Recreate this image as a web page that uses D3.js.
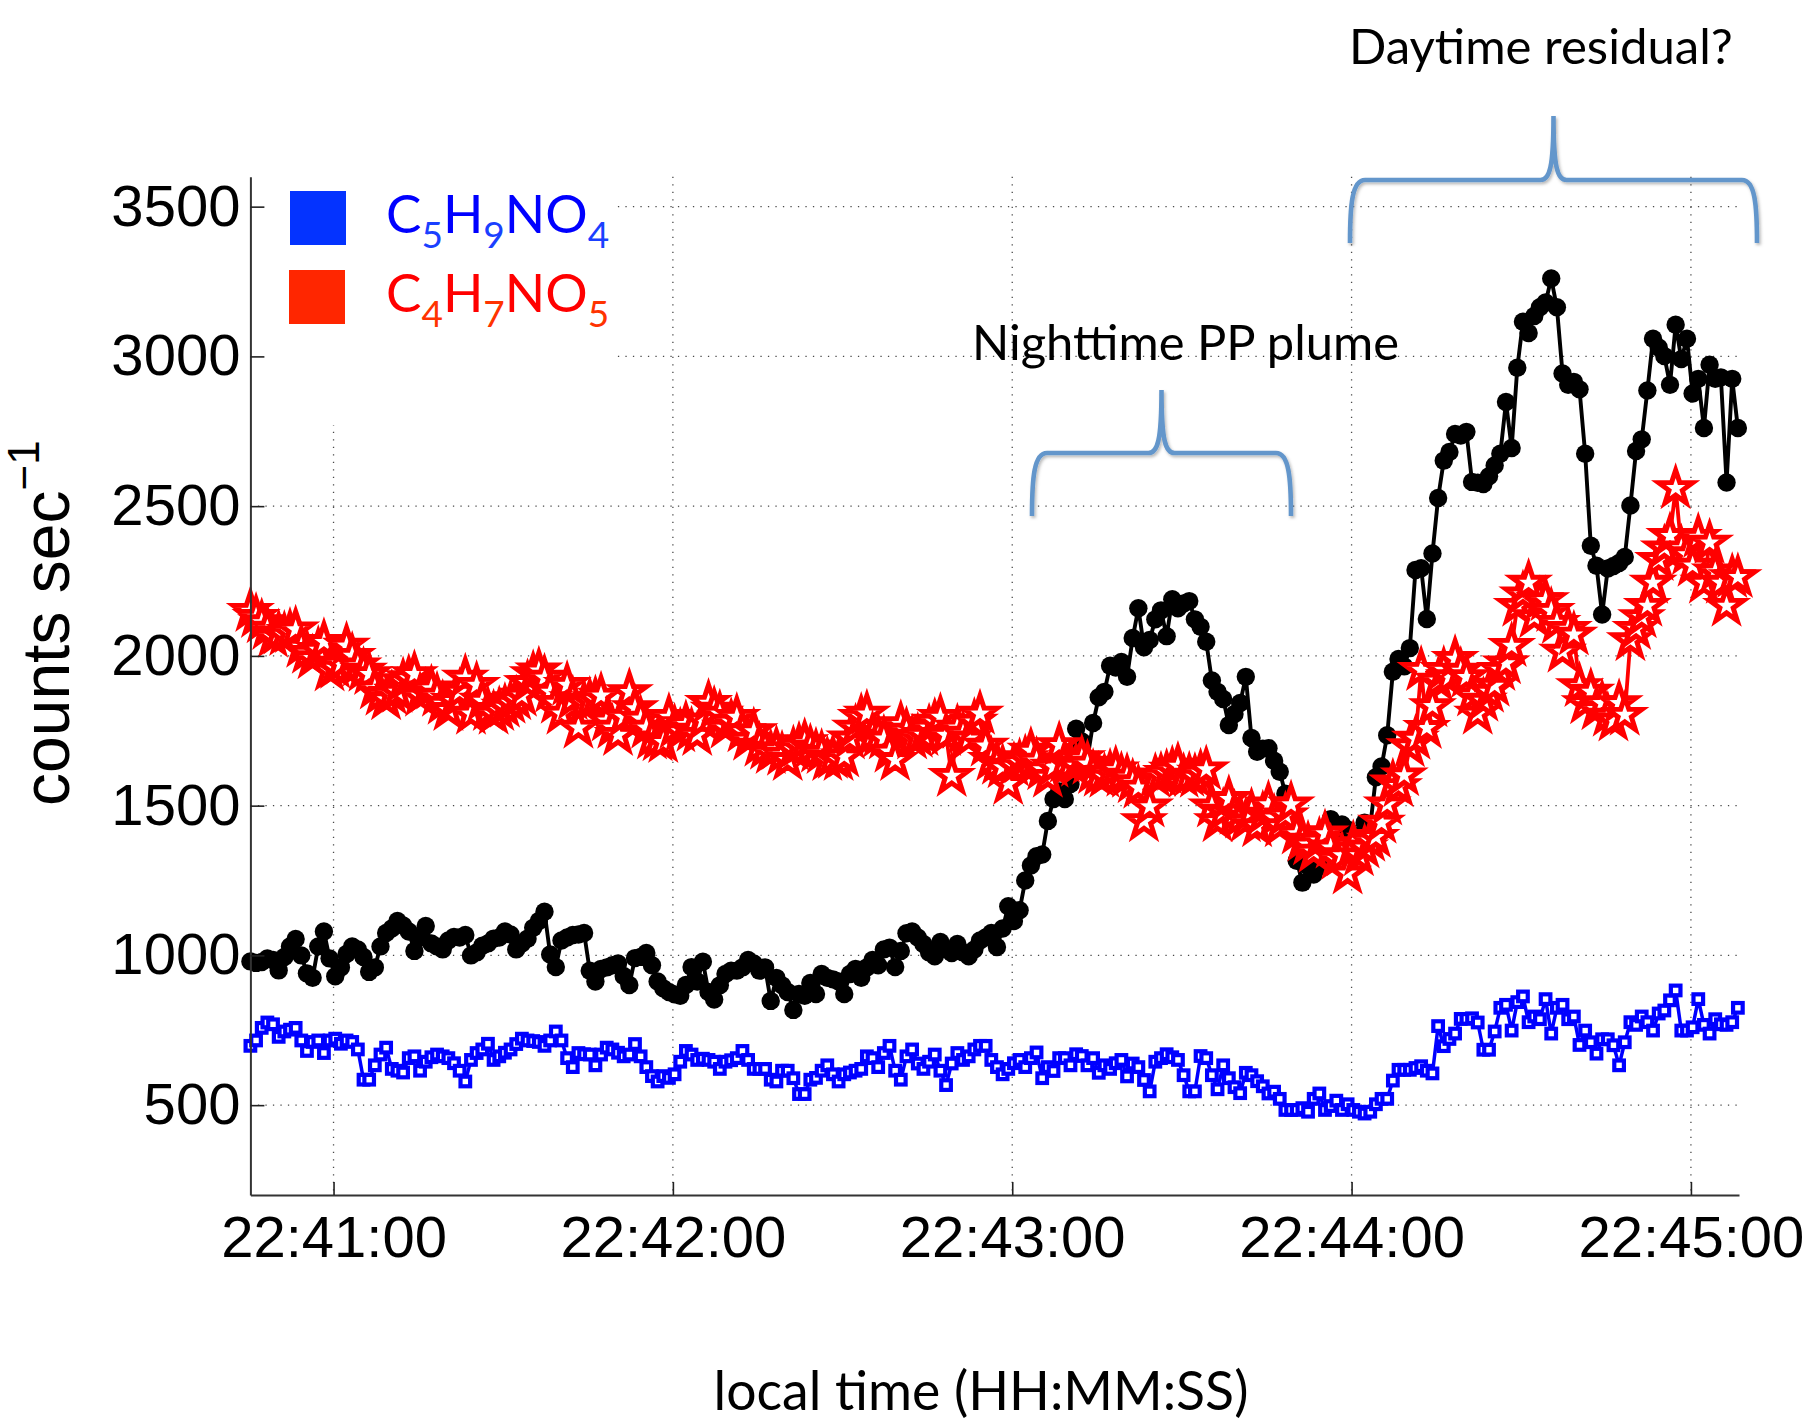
<!DOCTYPE html>
<html>
<head>
<meta charset="utf-8">
<script src="https://cdn.jsdelivr.net/npm/d3@7"></script>
<style>
  html, body { margin: 0; padding: 0; background: #fff; }
  svg { display: block; }
</style>
</head>
<body>
<svg id="chart" width="1812" height="1421"></svg>
<script>
// ---- data: 1 Hz samples starting at 22:40:45.3 local time ----
const startTime = "22:40:45.300";
const endTime = "22:45:08.500";
const sampleStepSeconds = 1;

// unlabelled black trace (counts per second)
const blackTrace = [
  980, 975, 978, 990, 985, 950, 995, 1030, 1055, 1000,
  940, 925, 1030, 1080, 990, 930, 960, 1005, 1030, 1020,
  995, 945, 960, 1030, 1075, 1090, 1115, 1100, 1080, 1015,
  1060, 1098, 1040, 1030, 1020, 1050, 1062, 1060, 1068, 1000,
  1010, 1032, 1040, 1056, 1060, 1080, 1070, 1020, 1040, 1056,
  1092, 1115, 1146, 1003, 961, 1050, 1060, 1068, 1070, 1075,
  949, 913, 955, 960, 967, 973, 931, 901, 991, 995,
  1008, 967, 913, 890, 878, 870, 865, 901, 961, 913,
  979, 878, 853, 900, 938, 949, 949, 960, 985, 973,
  949, 960, 848, 925, 900, 878, 818, 871, 865, 908,
  871, 938, 925, 920, 913, 871, 938, 955, 925, 960,
  985, 967, 1020, 1026, 961, 1015, 1074, 1080, 1060, 1038,
  1010, 997, 1045, 1020, 1008, 1038, 1010, 997, 1020, 1050,
  1060, 1075, 1028, 1090, 1164, 1115, 1151, 1250, 1300, 1331,
  1337, 1449, 1522, 1547, 1522, 1572, 1757, 1714, 1658, 1776,
  1862, 1880, 1967, 1961, 1980, 1930, 2060, 2159, 2029, 2053,
  2122, 2152, 2066, 2189, 2159, 2175, 2183, 2122, 2097, 2047,
  1918, 1880, 1856, 1769, 1806, 1843, 1930, 1726, 1680, 1690,
  1692, 1650, 1613, 1540, 1420, 1316, 1243, 1298, 1270, 1298,
  1330, 1455, 1395, 1437, 1420, 1377, 1400, 1443, 1431, 1595,
  1631, 1735, 1947, 1990, 1965, 2026, 2287, 2293, 2123, 2342,
  2527, 2652, 2681, 2741, 2736, 2748, 2581, 2578, 2574, 2600,
  2636, 2675, 2848, 2694, 2962, 3116, 3078, 3135, 3164, 3180,
  3260, 3164, 2943, 2905, 2915, 2890, 2675, 2368, 2301, 2138,
  2292, 2300, 2310, 2330, 2502, 2684, 2723, 2886, 3059, 3030,
  3001, 2905, 3106, 2991, 3059, 2876, 2925, 2761, 2972, 2925,
  2930, 2579, 2925, 2761
];

// C5H9NO4 (counts per second)
const c5h9no4 = [
  698, 716, 758, 776, 770, 728, 746, 752, 758, 716,
  681, 711, 716, 674, 716, 722, 705, 716, 711, 686,
  585, 585, 633, 669, 692, 621, 615, 609, 657, 663,
  615, 645, 660, 669, 663, 657, 640, 615, 579, 651,
  674, 686, 705, 651, 663, 675, 686, 704, 722, 716,
  714, 711, 698, 716, 746, 716, 657, 627, 674, 670,
  669, 633, 669, 692, 686, 675, 663, 669, 704, 663,
  627, 597, 579, 597, 591, 603, 645, 681, 669, 651,
  655, 651, 645, 621, 645, 650, 657, 681, 651, 621,
  621, 621, 585, 579, 615, 615, 590, 537, 537, 585,
  591, 615, 633, 603, 579, 603, 609, 615, 621, 663,
  657, 627, 674, 698, 615, 585, 663, 686, 639, 621,
  645, 669, 615, 567, 639, 674, 651, 663, 686, 698,
  698, 651, 627, 603, 621, 640, 651, 627, 657, 676,
  590, 627, 614, 657, 657, 633, 670, 664, 633, 657,
  608, 633, 621, 640, 651, 596, 639, 627, 584, 546,
  645, 657, 670, 660, 651, 600, 546, 546, 664, 657,
  600, 553, 633, 590, 560, 540, 608, 600, 580, 563,
  539, 545, 521, 484, 484, 484, 490, 478, 521, 539,
  484, 497, 515, 484, 503, 484, 478, 472, 478, 503,
  521, 521, 582, 618, 618, 618, 624, 630, 615, 606,
  764, 697, 721, 739, 788, 788, 790, 776, 685, 685,
  746, 825, 835, 749, 844, 863, 777, 796, 787, 854,
  739, 825, 835, 787, 796, 701, 749, 710, 672, 720,
  720, 700, 633, 710, 777, 768, 796, 777, 749, 806,
  816, 850, 883, 749, 749, 760, 854, 768, 739, 787,
  770, 768, 777, 825
];

// C4H7NO5 (counts per second)
const c4h7no5 = [
  2150, 2130, 2112, 2090, 2064, 2075, 2070, 2080, 2088, 2030,
  2010, 1992, 2020, 2046, 1951, 1960, 1974, 2034, 2000, 1968,
  1950, 1939, 1891, 1870, 1855, 1873, 1880, 1915, 1925, 1939,
  1867, 1880, 1891, 1867, 1840, 1819, 1849, 1880, 1927, 1807,
  1903, 1850, 1819, 1807, 1819, 1830, 1843, 1855, 1867, 1909,
  1939, 1951, 1927, 1880, 1843, 1807, 1903, 1855, 1760, 1843,
  1850, 1855, 1867, 1784, 1760, 1736, 1796, 1879, 1825, 1790,
  1760, 1724, 1718, 1712, 1796, 1760, 1748, 1772, 1750, 1736,
  1784, 1843, 1820, 1807, 1760, 1780, 1796, 1748, 1720, 1748,
  1700, 1690, 1676, 1688, 1670, 1652, 1688, 1700, 1712, 1694,
  1680, 1676, 1652, 1660, 1652, 1664, 1724, 1760, 1796, 1807,
  1736, 1730, 1724, 1680, 1652, 1772, 1750, 1724, 1730, 1736,
  1760, 1780, 1796, 1736, 1599, 1760, 1740, 1724, 1780, 1807,
  1700, 1652, 1640, 1628, 1572, 1633, 1645, 1658, 1683, 1650,
  1621, 1596, 1630, 1702, 1646, 1640, 1633, 1658, 1640, 1609,
  1600, 1596, 1610, 1621, 1600, 1596, 1578, 1560, 1448, 1497,
  1596, 1600, 1609, 1620, 1633, 1596, 1600, 1596, 1610, 1621,
  1497, 1448, 1480, 1522, 1473, 1460, 1448, 1480, 1431, 1470,
  1504, 1460, 1431, 1467, 1504, 1407, 1383, 1370, 1346, 1383,
  1407, 1360, 1322, 1334, 1273, 1371, 1334, 1360, 1383, 1395,
  1443, 1504, 1577, 1565, 1601, 1698, 1723, 1953, 1759, 1832,
  1917, 1953, 1929, 1990, 1950, 1929, 1868, 1807, 1850, 1880,
  1900, 1953, 1975, 2033, 2167, 2205, 2244, 2129, 2186, 2186,
  2150, 2110, 2014, 2090, 2071, 1899, 1842, 1880, 1822, 1842,
  1800, 1784, 1842, 1803, 2052, 2090, 2129, 2167, 2244, 2320,
  2359, 2400, 2560, 2359, 2339, 2301, 2397, 2244, 2378, 2282,
  2244, 2167, 2263, 2263
];

const yDomain = [200, 3600];
const yTicks = [500, 1000, 1500, 2000, 2500, 3000, 3500];
const xTickLabels = ["22:41:00", "22:42:00", "22:43:00", "22:44:00", "22:45:00"];

// legend labels as (element, subscript) pairs
const legendLabels = [
  [["C", "5"], ["H", "9"], ["NO", "4"]],
  [["C", "4"], ["H", "7"], ["NO", "5"]]
];

const annotations = [
  { text: "Nighttime PP plume" },
  { text: "Daytime residual?" }
];

// ---- layout ----
const plot = { left: 250.4, right: 1739, top: 176.7, bottom: 1195 };
const svg = d3.select("#chart");
svg.append("rect").attr("width", 1812).attr("height", 1421).attr("fill", "#fff");

const parseClock = d3.timeParse("%H:%M:%S.%L");
const parseTick = d3.timeParse("%H:%M:%S");
const t0 = parseClock(startTime);
const sampleTime = i => new Date(t0.getTime() + i * sampleStepSeconds * 1000);

const x = d3.scaleTime()
  .domain([t0, parseClock(endTime)])
  .range([plot.left, plot.right]);
const y = d3.scaleLinear().domain(yDomain).range([plot.bottom, plot.top]);
const xTicks = xTickLabels.map(parseTick);

// ---- dotted grid ----
const grid = svg.append("g").attr("class", "grid")
  .attr("stroke", "#4a4a4a").attr("stroke-width", 1.3)
  .attr("stroke-dasharray", "1.3,6.2").attr("fill", "none");
grid.selectAll("line.h").data(yTicks).join("line").attr("class", "h")
  .attr("x1", plot.left).attr("x2", plot.right)
  .attr("y1", d => y(d)).attr("y2", d => y(d));
grid.selectAll("line.v").data(xTicks).join("line").attr("class", "v")
  .attr("y1", plot.top).attr("y2", plot.bottom)
  .attr("x1", d => x(d)).attr("x2", d => x(d));

// ---- series ----
const line = d3.line().x((d, i) => x(sampleTime(i))).y(d => y(d));

function starPath(R, r) {
  const pts = [];
  for (let k = 0; k < 10; k++) {
    const a = -Math.PI / 2 + k * Math.PI / 5;
    const rad = k % 2 === 0 ? R : r;
    pts.push([rad * Math.cos(a), rad * Math.sin(a)]);
  }
  return "M" + pts.map(p => p[0].toFixed(2) + "," + p[1].toFixed(2)).join("L") + "Z";
}
const STAR = starPath(18, 7);

// blue: C5H9NO4, open squares
const gBlue = svg.append("g");
gBlue.append("path").datum(c5h9no4).attr("d", line)
  .attr("fill", "none").attr("stroke", "#0000FF").attr("stroke-width", 3.5).attr("stroke-linejoin", "round");
gBlue.selectAll("rect").data(c5h9no4).join("rect")
  .attr("x", (d, i) => x(sampleTime(i)) - 4.8).attr("y", d => y(d) - 4.8)
  .attr("width", 9.6).attr("height", 9.6)
  .attr("fill", "#fff").attr("stroke", "#0000FF").attr("stroke-width", 4.2);

// black trace, filled circles
const gBlack = svg.append("g");
gBlack.append("path").datum(blackTrace).attr("d", line)
  .attr("fill", "none").attr("stroke", "#000").attr("stroke-width", 3.9).attr("stroke-linejoin", "round");
gBlack.selectAll("circle").data(blackTrace).join("circle")
  .attr("cx", (d, i) => x(sampleTime(i))).attr("cy", d => y(d)).attr("r", 9.2).attr("fill", "#000");

// red: C4H7NO5, pentagrams
const gRed = svg.append("g");
gRed.append("path").datum(c4h7no5).attr("d", line)
  .attr("fill", "none").attr("stroke", "#FF0000").attr("stroke-width", 3.8).attr("stroke-linejoin", "round");
gRed.selectAll("path.star").data(c4h7no5).join("path").attr("class", "star")
  .attr("d", STAR)
  .attr("transform", (d, i) => `translate(${x(sampleTime(i))},${y(d)})`)
  .attr("fill", "#fff").attr("stroke", "#FF0000").attr("stroke-width", 5);

// ---- legend ----
svg.append("rect").attr("x", plot.left + 1).attr("y", plot.top - 2)
  .attr("width", 616 - plot.left).attr("height", 425 - plot.top + 2).attr("fill", "#fff");
const legendMain = ["#0000FF", "#FF0000"];
const legendSub = ["#1a40ff", "#ff3300"];
const legendSwatch = ["#0433FF", "#FF2600"];
const legendRows = [{ sy: 191, base: 233 }, { sy: 270, base: 312 }];
legendLabels.forEach((parts, k) => {
  svg.append("rect").attr("x", 290 - (k ? 1 : 0)).attr("y", legendRows[k].sy)
    .attr("width", 56).attr("height", 54).attr("fill", legendSwatch[k]);
  const t = svg.append("text").attr("x", 386).attr("y", legendRows[k].base)
    .attr("font-family", "Lato, 'Open Sans', sans-serif");
  parts.forEach(([el, sub], j) => {
    t.append("tspan").text(el).attr("font-size", 53).attr("fill", legendMain[k])
      .attr("dy", j === 0 ? 0 : -15);
    t.append("tspan").text(sub).attr("font-size", 37).attr("fill", legendSub[k]).attr("dy", 15);
  });
});

// ---- axes ----
const axisFont = "'Liberation Sans', Arial, Helvetica, sans-serif";
const yAxis = svg.append("g").attr("transform", `translate(${plot.left},0)`)
  .call(d3.axisLeft(y).tickValues(yTicks).tickFormat(d3.format("d"))
    .tickSize(-14).tickSizeOuter(0).tickPadding(10));
const xAxis = svg.append("g").attr("transform", `translate(0,${plot.bottom})`)
  .call(d3.axisBottom(x).tickValues(xTicks).tickFormat(d3.timeFormat("%H:%M:%S"))
    .tickSize(-13).tickSizeOuter(0).tickPadding(21));
[yAxis, xAxis].forEach(a => {
  a.attr("font-family", axisFont).attr("font-size", 58);
  a.select(".domain").attr("stroke", "#333").attr("stroke-width", 2);
  a.selectAll(".tick line").attr("stroke", "#222").attr("stroke-width", 1.6);
  a.selectAll(".tick text").attr("fill", "#000");
});

// y axis title with superscript
const yTitle = svg.append("text")
  .attr("transform", "translate(69,806) rotate(-90)")
  .attr("font-family", axisFont).attr("font-size", 66).attr("fill", "#000");
yTitle.append("tspan").text("counts sec");
yTitle.append("tspan").text("\u22121").attr("font-size", 44).attr("dy", -30);

// x axis title
const fitWidth = (sel, w) => {
  const bw = sel.node().getBBox().width;
  sel.attr("font-size", parseFloat(sel.attr("font-size")) * w / bw);
};
const xTitle = svg.append("text").attr("x", 981).attr("y", 1410)
  .attr("text-anchor", "middle").attr("font-family", "Lato, 'Open Sans', sans-serif")
  .attr("font-size", 50).attr("fill", "#000").text("local time (HH:MM:SS)");
fitWidth(xTitle, 535);

// ---- annotations: braces and captions ----
const defs = svg.append("defs");
const f = defs.append("filter").attr("id", "braceShadow")
  .attr("x", "-10%").attr("y", "-10%").attr("width", "120%").attr("height", "130%");
f.append("feDropShadow").attr("dx", 1.5).attr("dy", 2).attr("stdDeviation", 1.6)
  .attr("flood-color", "#000").attr("flood-opacity", 0.28);

function bracePath(x0, x1, yb, yh, yp) {
  const xm = (x0 + x1) / 2;
  return `M${x0},${yb} C${x0},${yb - 38} ${x0 + 2},${yh} ${x0 + 15},${yh}` +
    ` L${xm - 13},${yh} C${xm - 4},${yh} ${xm},${yh - 12} ${xm},${yp}` +
    ` C${xm},${yh - 12} ${xm + 4},${yh} ${xm + 13},${yh}` +
    ` L${x1 - 15},${yh} C${x1 - 2},${yh} ${x1},${yb - 38} ${x1},${yb}`;
}
const braces = [
  { x0: 1032, x1: 1291, yb: 516, yh: 453, yp: 390 },
  { x0: 1350, x1: 1757, yb: 243, yh: 180, yp: 116 }
];
svg.selectAll("path.brace").data(braces).join("path").attr("class", "brace")
  .attr("d", d => bracePath(d.x0, d.x1, d.yb, d.yh, d.yp))
  .attr("fill", "none").attr("stroke", "#6496CB").attr("stroke-width", 4.6)
  .attr("filter", "url(#braceShadow)");

const captionPos = [{ x: 972, y: 360, w: 427 }, { x: 1349, y: 64, w: 384 }];
annotations.forEach((a, k) => {
  const t = svg.append("text").attr("x", captionPos[k].x).attr("y", captionPos[k].y)
    .attr("font-family", "Lato, 'Open Sans', sans-serif").attr("font-size", 46)
    .attr("fill", "#000").text(a.text);
  fitWidth(t, captionPos[k].w);
});
</script>
</body>
</html>
